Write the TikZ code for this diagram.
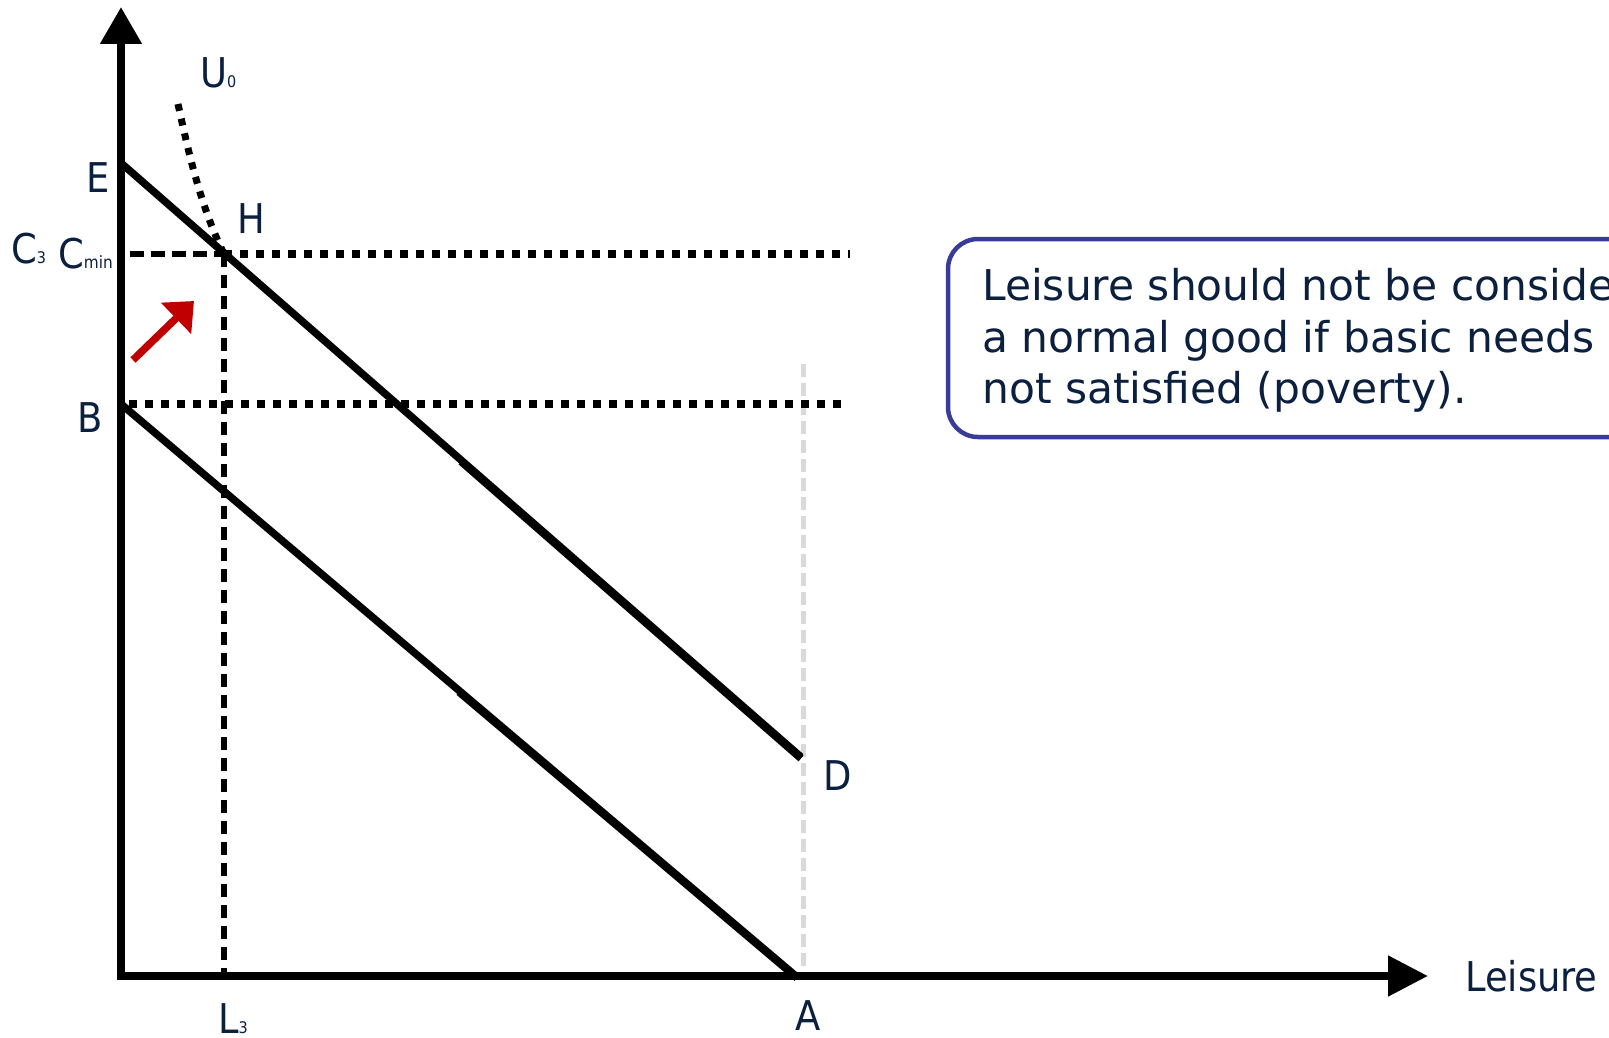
\documentclass[tikz,border=0pt]{standalone}
\usepackage{fontspec}
\setmainfont{DejaVu Sans}
\newfontfamily\labfont{DejaVu Sans Condensed}
\usetikzlibrary{arrows.meta,calc}
\definecolor{navy}{HTML}{0B1F3F}
\definecolor{boxblue}{HTML}{383C98}
\definecolor{arrred}{HTML}{C00000}
\definecolor{lightgrey}{HTML}{D9D9D9}
\newcommand\subfs{\fontsize{16}{16}\selectfont}
\newcommand\minfs{\fontsize{17}{17}\selectfont}
\tikzset{
  axisline/.style={line width=8pt, line join=miter},
  budget/.style={line width=7.5pt},
  dotline/.style={line width=8pt, dash pattern=on 8pt off 8pt},
  dashline/.style={line width=5.5pt, dash pattern=on 14pt off 7pt},
  vdashline/.style={line width=5.5pt, dash pattern=on 13pt off 8pt},
  greydash/.style={line width=5pt, draw=lightgrey, dash pattern=on 13pt off 6pt},
  ucurve/.style={line width=7pt, dash pattern=on 7pt off 8pt},
  lab/.style={text=navy, font=\labfont\fontsize{41}{49}\selectfont, inner sep=0pt},
  boxtext/.style={text=navy, font=\fontsize{42.4}{51.5}\selectfont, inner sep=0pt, anchor=base west},
  notebox/.style={draw=boxblue, line width=4.5pt, rounded corners=30pt},
  shiftarrow/.style={draw=arrred, line width=7.5pt, -{Triangle[length=25pt,width=42pt]}},
}
\begin{document}
\begin{tikzpicture}[x=1pt,y=-1pt]
\useasboundingbox (0,0) rectangle (1609,1038);
\clip (0,0) rectangle (1609,1038);

% key points
\coordinate (O) at (121,976);
\coordinate (Ytip) at (121,7);
\coordinate (Xtip) at (1428,976);
\coordinate (E) at (121,163);
\coordinate (D) at (801,757);
\coordinate (B) at (121,404);
\coordinate (A) at (797,977);
\coordinate (H) at (224,254);
\coordinate (Cm) at (130,254);
\coordinate (CmEnd) at (850,254);
\coordinate (Bdot) at (129,404);
\coordinate (BEnd) at (843,404);
\coordinate (L3) at (224,976);
\coordinate (Ustart) at (178,104);
\coordinate (G1) at (803,364);
\coordinate (G2) at (803,976);
\coordinate (R1) at (133,360);
\coordinate (R2) at (194,301);

% grey dashed vertical at D/A
\draw[greydash] (G1) -- (G2);

% dotted horizontals
\draw[dotline] (H) -- (CmEnd);
\draw[dotline] (Bdot) -- (BEnd);

% dashed Cmin segment and vertical at L3
\draw[dashline] (Cm) -- (H);
\draw[vdashline] (H) -- (L3);

% indifference curve U0
\draw[ucurve] (Ustart) .. controls (188,150) and (200,205) .. (H);

% budget lines
\draw[budget] (E) -- (D);
\draw[budget] ($(E)!0.5!(D)+(0,1.5)$) -- ($(D)+(0,1.5)$);
\draw[budget] (B) -- (A);
\draw[budget] ($(B)!0.5!(A)+(0,1.5)$) -- ($(A)+(0,1)$);

% axes
\draw[axisline, {Triangle[length=37pt,width=40pt]}-{Triangle[length=40pt,width=39pt]}] (Ytip) -- (O) -- (Xtip);

% red shift arrow
\draw[shiftarrow] (R1) -- (R2);

% labels
\node[lab] (lE) at (98,178) {E};
\node[lab] (lH) at (251,219) {H};
\node[lab, anchor=base west] (lU) at (200,88) {U{\subfs 0}};
\node[lab, anchor=base west] (lC3) at (11,263) {C{\subfs 3}};
\node[lab, anchor=base west] (lCm) at (58,268) {C{\minfs min}};
\node[lab] (lB) at (90,418) {B};
\node[lab] (lD) at (838,776) {D};
\node[lab, text depth=0pt] (lA) at (808,1016) {A};
\node[lab, anchor=base west, text depth=0pt] (lL) at (218,1033) {L{\subfs 3}};
\node[lab, anchor=base west] (lLeis) at (1465,991) {Leisure};

% note box
\draw[notebox] (948,239) rectangle (1700,437);
\node[boxtext] (t1) at (982,300) {Leisure should not be conside};
\node[boxtext] (t2) at (982,352) {a normal good if basic needs};
\node[boxtext] (t3) at (982,403) {not satisfied (poverty).};
\end{tikzpicture}
\end{document}
